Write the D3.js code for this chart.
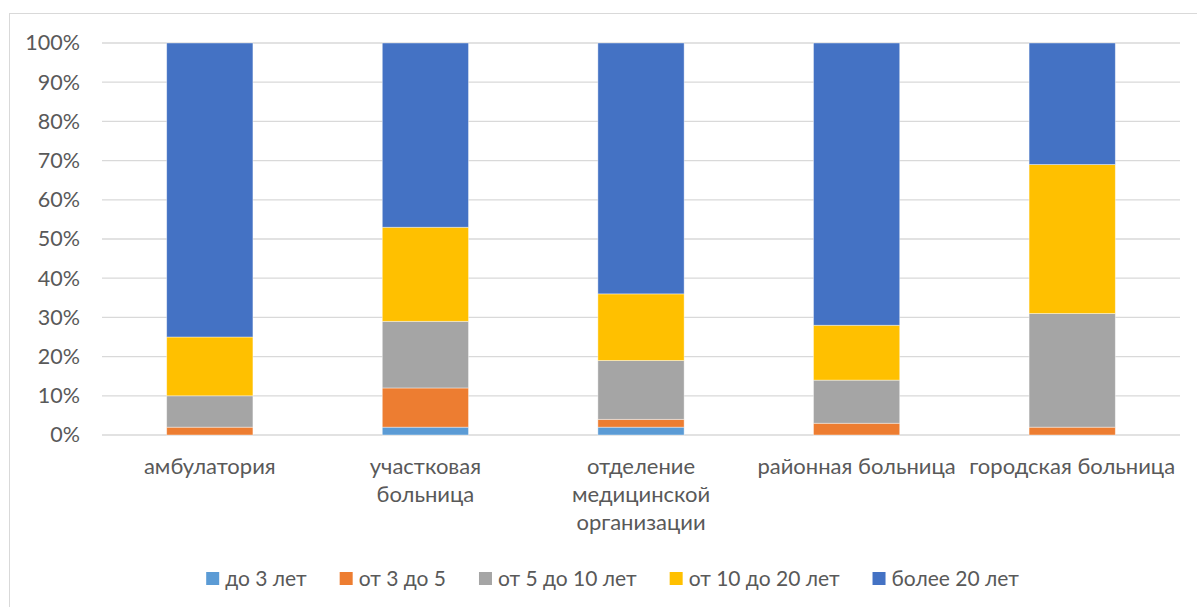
<html>
    <head>
        <meta charset="utf-8">
        <title>Стаж работы</title>
        <script src="https://d3js.org/d3.v7.min.js" charset="utf-8"></script>
        <style>
            body {
                margin: 0;
                font-family: "Lato", "Open Sans", sans-serif;
            }
            text {
                fill: #595959;
            }
        </style>
    </head>
    <body>
        <script>
            // data, in percent
            var categories = ["амбулатория", "участковая больница", "отделение медицинской организации", "районная больница", "городская больница"];
            var labelLines = [["амбулатория"], ["участковая", "больница"], ["отделение", "медицинской", "организации"], ["районная больница"], ["городская больница"]];
            var seriesNames = ["до 3 лет", "от 3 до 5", "от 5 до 10 лет", "от 10 до 20 лет", "более 20 лет"];
            var upTo3 = [0, 2, 2, 0, 0];
            var from3to5 = [2, 10, 2, 3, 2];
            var from5to10 = [8, 17, 15, 11, 29];
            var from10to20 = [15, 24, 17, 14, 38];
            var over20 = [75, 47, 64, 72, 31];
            var yTicks = [0, 10, 20, 30, 40, 50, 60, 70, 80, 90, 100];

            var colors = ["#5B9BD5", "#ED7D31", "#A5A5A5", "#FFC000", "#4472C4"];
            var seriesValues = [upTo3, from3to5, from5to10, from10to20, over20];

            var width = 1197;
            var height = 607;

            var svg = d3.select("body")
            .append("svg")
            .attr("width", width)
            .attr("height", height);

            // chart frame
            svg.append("rect")
            .attr("x", 9.5)
            .attr("y", 13.5)
            .attr("width", 1200)
            .attr("height", 620)
            .attr("fill", "white")
            .attr("stroke", "#d9d9d9");

            var x = d3.scaleBand()
            .domain(categories)
            .range([102, 1180])
            .paddingInner(0.6)
            .paddingOuter(0.3);

            var y = d3.scaleLinear()
            .domain([0, 100])
            .range([435, 43]);

            // gridlines
            svg.append("g")
            .selectAll("line")
            .data(yTicks)
            .enter()
            .append("line")
            .attr("x1", 102)
            .attr("x2", 1180)
            .attr("y1", d => y(d))
            .attr("y2", d => y(d))
            .attr("stroke", "#d9d9d9")
            .attr("stroke-width", 1.3);

            // y labels
            var yAxis = d3.axisLeft(y)
            .tickValues(yTicks)
            .tickFormat(d => d + "%")
            .tickSize(0)
            .tickPadding(0);

            var yg = svg.append("g")
            .attr("transform", "translate(80,0)")
            .call(yAxis);
            yg.select(".domain").remove();
            yg.selectAll("text")
            .attr("font-family", "Lato")
            .attr("font-size", 21.5)
            .attr("fill", "#595959");

            // stacked bars
            var table = categories.map(function(c, i) {
                var row = {cat: c};
                seriesNames.forEach(function(s, j) { row[s] = seriesValues[j][i]; });
                return row;
            });
            var stack = d3.stack().keys(seriesNames)(table);

            svg.append("g")
            .selectAll("g")
            .data(stack)
            .enter()
            .append("g")
            .attr("fill", (d, i) => colors[i])
            .selectAll("rect")
            .data(d => d)
            .enter()
            .append("rect")
            .filter(d => d[1] > d[0])
            .attr("x", d => x(d.data.cat))
            .attr("width", x.bandwidth())
            .attr("y", d => y(d[1]))
            .attr("height", d => y(d[0]) - y(d[1]))
            .attr("stroke", "white")
            .attr("stroke-opacity", 0.5)
            .attr("stroke-width", 0.8);

            // category labels
            var catg = svg.append("g");
            categories.forEach(function(c, i) {
                var t = catg.append("text")
                .attr("text-anchor", "middle")
                .attr("font-size", 22)
                .attr("x", x(c) + x.bandwidth() / 2)
                .attr("y", 474);
                labelLines[i].forEach(function(line, k) {
                    t.append("tspan")
                    .attr("x", x(c) + x.bandwidth() / 2)
                    .attr("dy", k == 0 ? 0 : 27.8)
                    .text(line);
                });
            });

            // legend
            var legend = svg.append("g");
            var items = legend.selectAll("g")
            .data(seriesNames)
            .enter()
            .append("g");
            items.append("rect")
            .attr("width", 13)
            .attr("height", 13)
            .attr("y", 572)
            .attr("fill", (d, i) => colors[i]);
            items.append("text")
            .attr("x", 19)
            .attr("y", 585.5)
            .attr("font-size", 21)
            .text(d => d);

            var pos = 0;
            var offsets = [];
            items.each(function() {
                offsets.push(pos);
                var w = d3.select(this).select("text").node().getComputedTextLength();
                pos += 19 + w + 33;
            });
            var total = pos - 33;
            var start = 612.5 - total / 2;
            items.attr("transform", (d, i) => "translate(" + (start + offsets[i]) + ",0)");
        </script>
    </body>
</html>
